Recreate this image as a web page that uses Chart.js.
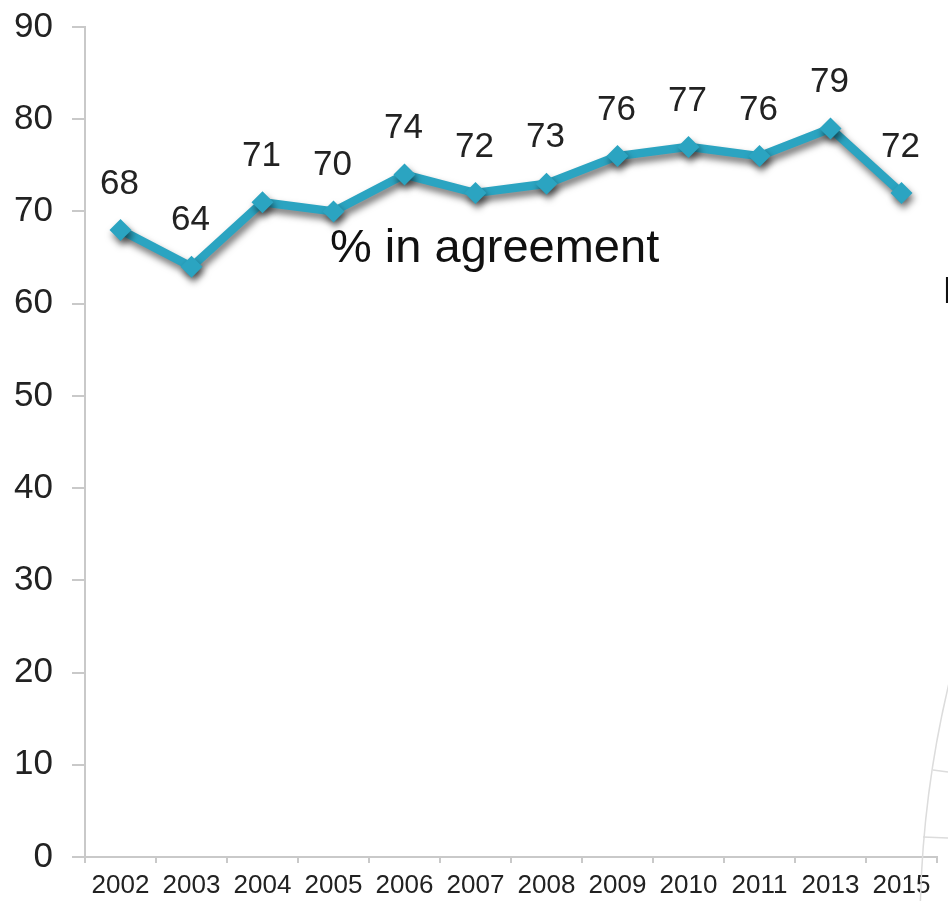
<!DOCTYPE html>
<html>
<head>
<meta charset="utf-8">
<script src="https://cdn.jsdelivr.net/npm/chart.js@4.4.1/dist/chart.umd.min.js"></script>
<style>
  html, body { margin: 0; padding: 0; background: #fff; }
  #wrap { width: 948px; height: 901px; position: relative; }
</style>
</head>
<body>
<div id="wrap"><canvas id="chart"></canvas></div>
<script>
// data
const years = ['2002', '2003', '2004', '2005', '2006', '2007', '2008', '2009', '2010', '2011', '2013', '2015'];
const agreement = [68, 64, 71, 70, 74, 72, 73, 76, 77, 76, 79, 72];
const seriesLabel = '% in agreement';
const sideLabel = 'Disagree';

const lineColor = '#2ba4c1';
const axisColor = '#c9c9c9';
const textColor = '#222';
const fontFamily = "'Liberation Sans', Arial, sans-serif";

// soft drop shadow under the line and markers
const shadowPlugin = {
    id: 'lineShadow',
    beforeDatasetDraw(chart) {
        const ctx = chart.ctx;
        ctx.save();
        ctx.shadowColor = 'rgba(0, 0, 0, 0.55)';
        ctx.shadowBlur = 7;
        ctx.shadowOffsetX = 2;
        ctx.shadowOffsetY = 5;
    },
    afterDatasetDraw(chart) {
        chart.ctx.restore();
    }
};

// number above each point
const valueLabels = {
    id: 'valueLabels',
    afterDatasetsDraw(chart) {
        const ctx = chart.ctx;
        const meta = chart.getDatasetMeta(0);
        ctx.save();
        ctx.font = `35px ${fontFamily}`;
        ctx.fillStyle = textColor;
        ctx.textAlign = 'center';
        ctx.textBaseline = 'middle';
        meta.data.forEach((pt, i) => {
            ctx.fillText(String(agreement[i]), pt.x - 1, pt.y - 46);
        });
        ctx.restore();
    }
};

// series caption, cut-off side text, and the faint globe lines at the corner
const extras = {
    id: 'extras',
    afterDraw(chart) {
        const ctx = chart.ctx;
        ctx.save();
        ctx.font = `47px ${fontFamily}`;
        ctx.fillStyle = '#111';
        ctx.textAlign = 'left';
        ctx.textBaseline = 'alphabetic';
        ctx.fillText(seriesLabel, 330, 262);

        ctx.font = `36px ${fontFamily}`;
        ctx.fillText(sideLabel, 943, 303);

        ctx.strokeStyle = '#dcdcdc';
        ctx.lineWidth = 1.5;
        ctx.beginPath();
        ctx.arc(1985, 930, 1065, Math.PI * 1.0, Math.PI * 1.08);
        ctx.stroke();
        ctx.beginPath();
        ctx.moveTo(933, 770);
        ctx.lineTo(948, 772);
        ctx.moveTo(923, 837);
        ctx.lineTo(948, 838);
        ctx.stroke();
        ctx.restore();
    }
};

new Chart(document.getElementById('chart'), {
    type: 'line',
    data: {
        labels: years,
        datasets: [{
            label: seriesLabel,
            data: agreement,
            borderColor: lineColor,
            backgroundColor: lineColor,
            borderWidth: 8.5,
            pointStyle: 'rectRot',
            pointRadius: 11,
            pointBorderWidth: 0,
            pointBackgroundColor: lineColor,
            tension: 0,
            fill: false
        }]
    },
    options: {
        responsive: true,
        maintainAspectRatio: false,
        animation: false,
        layout: { padding: { top: 27, right: 0, left: 0, bottom: 0 } },
        plugins: {
            legend: { display: false },
            tooltip: { enabled: false }
        },
        scales: {
            x: {
                offset: true,
                grid: {
                    offset: true,
                    drawOnChartArea: false,
                    drawTicks: true,
                    tickLength: 6,
                    color: axisColor,
                    lineWidth: 2
                },
                border: { color: axisColor, width: 2 },
                ticks: {
                    color: textColor,
                    font: { size: 26, family: fontFamily },
                    padding: 7,
                    maxRotation: 0,
                    autoSkip: false
                },
                afterFit: (s) => { s.height = 44; }
            },
            y: {
                min: 0,
                max: 90,
                grid: {
                    drawOnChartArea: false,
                    drawTicks: true,
                    tickLength: 13,
                    color: axisColor,
                    lineWidth: 2
                },
                border: { color: axisColor, width: 2 },
                ticks: {
                    stepSize: 10,
                    color: textColor,
                    font: { size: 35, family: fontFamily },
                    padding: 19
                },
                afterFit: (s) => {
                    s.width = 85;
                    s.paddingTop = 0;
                    s.paddingBottom = 0;
                }
            }
        }
    },
    plugins: [shadowPlugin, valueLabels, extras]
});
</script>
</body>
</html>
